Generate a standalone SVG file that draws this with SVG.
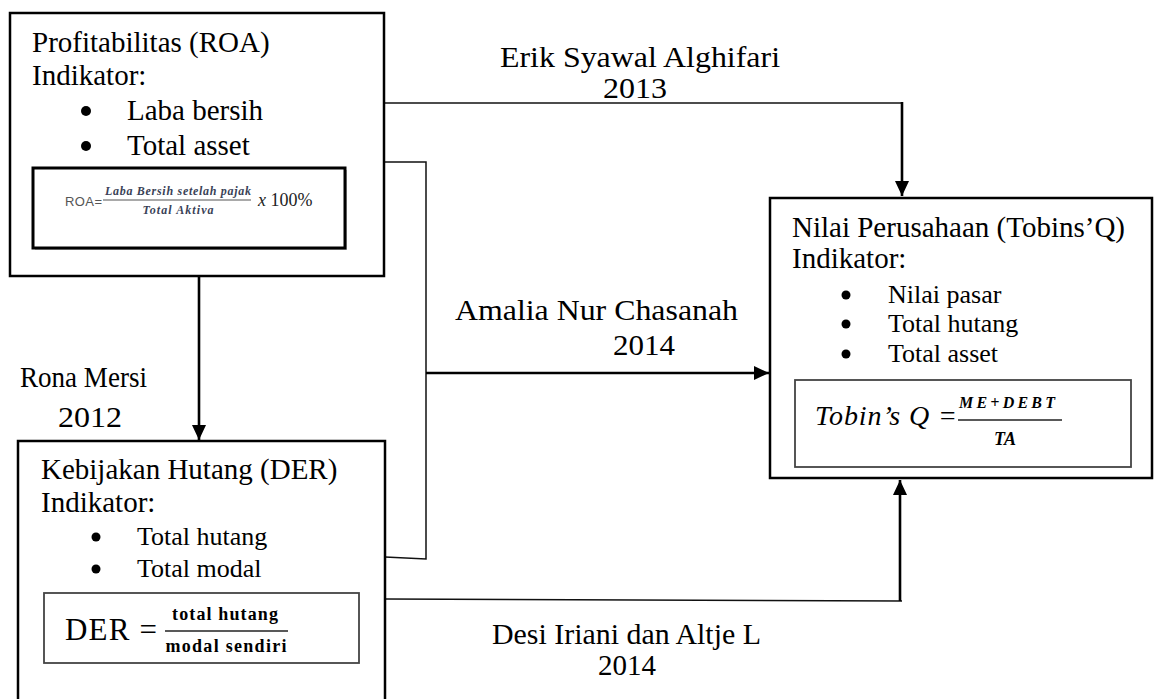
<svg xmlns="http://www.w3.org/2000/svg" width="1155" height="699" viewBox="0 0 1155 699">
<style>
  .t{font-family:"Liberation Serif","Times New Roman",serif;fill:#000}
  .title{font-size:29px}
  .b1{font-size:29px}
  .b2{font-size:26px}
  .lbl{font-size:30px}
  .box{fill:#fff;stroke:#000;stroke-width:2.5}
  .fbox{fill:#fff;stroke:#444;stroke-width:1.8}
  .thin{fill:none;stroke:#111;stroke-width:1.5}
  .thick{fill:none;stroke:#000;stroke-width:2.6}
  .dot{fill:#000}
  .math{font-family:"Liberation Serif","DejaVu Serif",serif;font-style:italic}
</style>
<defs>
  <marker id="arr" markerUnits="userSpaceOnUse" markerWidth="16" markerHeight="16" refX="15" refY="8" orient="auto">
    <path d="M0,1 L15,8 L0,15 Z" fill="#000"/>
  </marker>
</defs>
<rect width="1155" height="699" fill="#fff"/>

<g id="connectors">
  <polyline class="thin" points="385,103 902,103"/>
  <polyline class="thick" points="902,102 902,196" marker-end="url(#arr)"/>
  <polyline class="thin" points="385,162 426,162 426,559 385,557"/>
  <polyline class="thick" points="426,373 769,373" marker-end="url(#arr)"/>
  <polyline class="thick" points="199,276 199,440" marker-end="url(#arr)"/>
  <polyline class="thin" points="385,599 902,601"/>
  <polyline class="thick" points="900,601 900,480" marker-end="url(#arr)"/>
</g>

<g id="label-erik">
  <text class="t lbl" x="500" y="67" textLength="280" lengthAdjust="spacingAndGlyphs">Erik Syawal Alghifari</text>
  <text class="t lbl" x="603" y="98" textLength="64" lengthAdjust="spacingAndGlyphs">2013</text>
</g>
<g id="label-amalia">
  <text class="t lbl" x="455" y="320" textLength="283" lengthAdjust="spacingAndGlyphs">Amalia Nur Chasanah</text>
  <text class="t lbl" x="613" y="355" textLength="62" lengthAdjust="spacingAndGlyphs">2014</text>
</g>
<g id="label-rona">
  <text class="t lbl" x="20" y="387" textLength="127" lengthAdjust="spacingAndGlyphs">Rona Mersi</text>
  <text class="t lbl" x="58" y="427" textLength="64" lengthAdjust="spacingAndGlyphs">2012</text>
</g>
<g id="label-desi">
  <text class="t lbl" x="492" y="644" textLength="269" lengthAdjust="spacingAndGlyphs">Desi Iriani dan Altje L</text>
  <text class="t lbl" x="598" y="675" textLength="58" lengthAdjust="spacingAndGlyphs">2014</text>
</g>

<g id="node-roa">
  <rect class="box" x="10" y="13" width="374" height="263"/>
  <text class="t title" x="32" y="52">Profitabilitas (ROA)</text>
  <text class="t title" x="32" y="85">Indikator:</text>
  <circle class="dot" cx="86" cy="111" r="5"/>
  <text class="t b1" x="127" y="120">Laba bersih</text>
  <circle class="dot" cx="86" cy="146" r="5"/>
  <text class="t b1" x="127" y="155">Total asset</text>
  <rect x="35" y="170" width="312" height="80" fill="#bbb"/>
  <rect x="33" y="168" width="312" height="80" fill="#fff" stroke="#000" stroke-width="3"/>
  <text x="65" y="206" font-family="Liberation Sans,Arial,sans-serif" font-size="13" fill="#555" textLength="37">ROA=</text>
  <text x="178" y="195" text-anchor="middle" font-family="Liberation Serif,serif" font-style="italic" font-weight="bold" font-size="12" fill="#3a4257" textLength="146">Laba Bersih setelah pajak</text>
  <line x1="103" y1="200" x2="251" y2="200" stroke="#555" stroke-width="1.2"/>
  <text x="178" y="214" text-anchor="middle" font-family="Liberation Serif,serif" font-style="italic" font-weight="bold" font-size="12" fill="#3a4257" textLength="71">Total Aktiva</text>
  <text x="258" y="206" font-family="Liberation Serif,serif" font-size="18" fill="#222"><tspan font-style="italic">x</tspan> 100%</text>
</g>

<g id="node-der">
  <rect class="box" x="18" y="441" width="367" height="280"/>
  <text class="t title" x="41" y="479">Kebijakan Hutang (DER)</text>
  <text class="t title" x="41" y="512">Indikator:</text>
  <circle class="dot" cx="96" cy="537" r="4.5"/>
  <text class="t b2" x="137" y="545">Total hutang</text>
  <circle class="dot" cx="96" cy="569" r="4.5"/>
  <text class="t b2" x="137" y="577">Total modal</text>
  <rect class="fbox" x="44" y="593" width="315" height="70"/>
  <text class="t" x="65" y="640" font-size="31" textLength="92">DER =</text>
  <text class="t" x="225" y="620" text-anchor="middle" font-size="18" font-weight="bold" fill="#222" textLength="106">total hutang</text>
  <line x1="165" y1="631" x2="288" y2="631" stroke="#222" stroke-width="1.4"/>
  <text class="t" x="226" y="652" text-anchor="middle" font-size="18" font-weight="bold" fill="#222" textLength="121">modal sendiri</text>
</g>

<g id="node-tobin">
  <rect class="box" x="770" y="198" width="382" height="280"/>
  <text class="t title" x="792" y="237">Nilai Perusahaan (Tobins’Q)</text>
  <text class="t title" x="792" y="268">Indikator:</text>
  <circle class="dot" cx="846" cy="295" r="4.5"/>
  <text class="t b2" x="888" y="303">Nilai pasar</text>
  <circle class="dot" cx="846" cy="324" r="4.5"/>
  <text class="t b2" x="888" y="332">Total hutang</text>
  <circle class="dot" cx="846" cy="354" r="4.5"/>
  <text class="t b2" x="888" y="362">Total asset</text>
  <rect class="fbox" x="795" y="380" width="336" height="87"/>
  <text class="t math" x="815" y="425" font-size="28" textLength="142">Tobin’s Q =</text>
  <text class="t math" x="959" y="408" font-size="16" font-weight="bold" textLength="96" fill="#222">ME+DEBT</text>
  <line x1="958" y1="420" x2="1062" y2="420" stroke="#222" stroke-width="1.4"/>
  <text class="t math" x="994" y="445" font-size="18" font-weight="bold" fill="#222">TA</text>
</g>
</svg>
